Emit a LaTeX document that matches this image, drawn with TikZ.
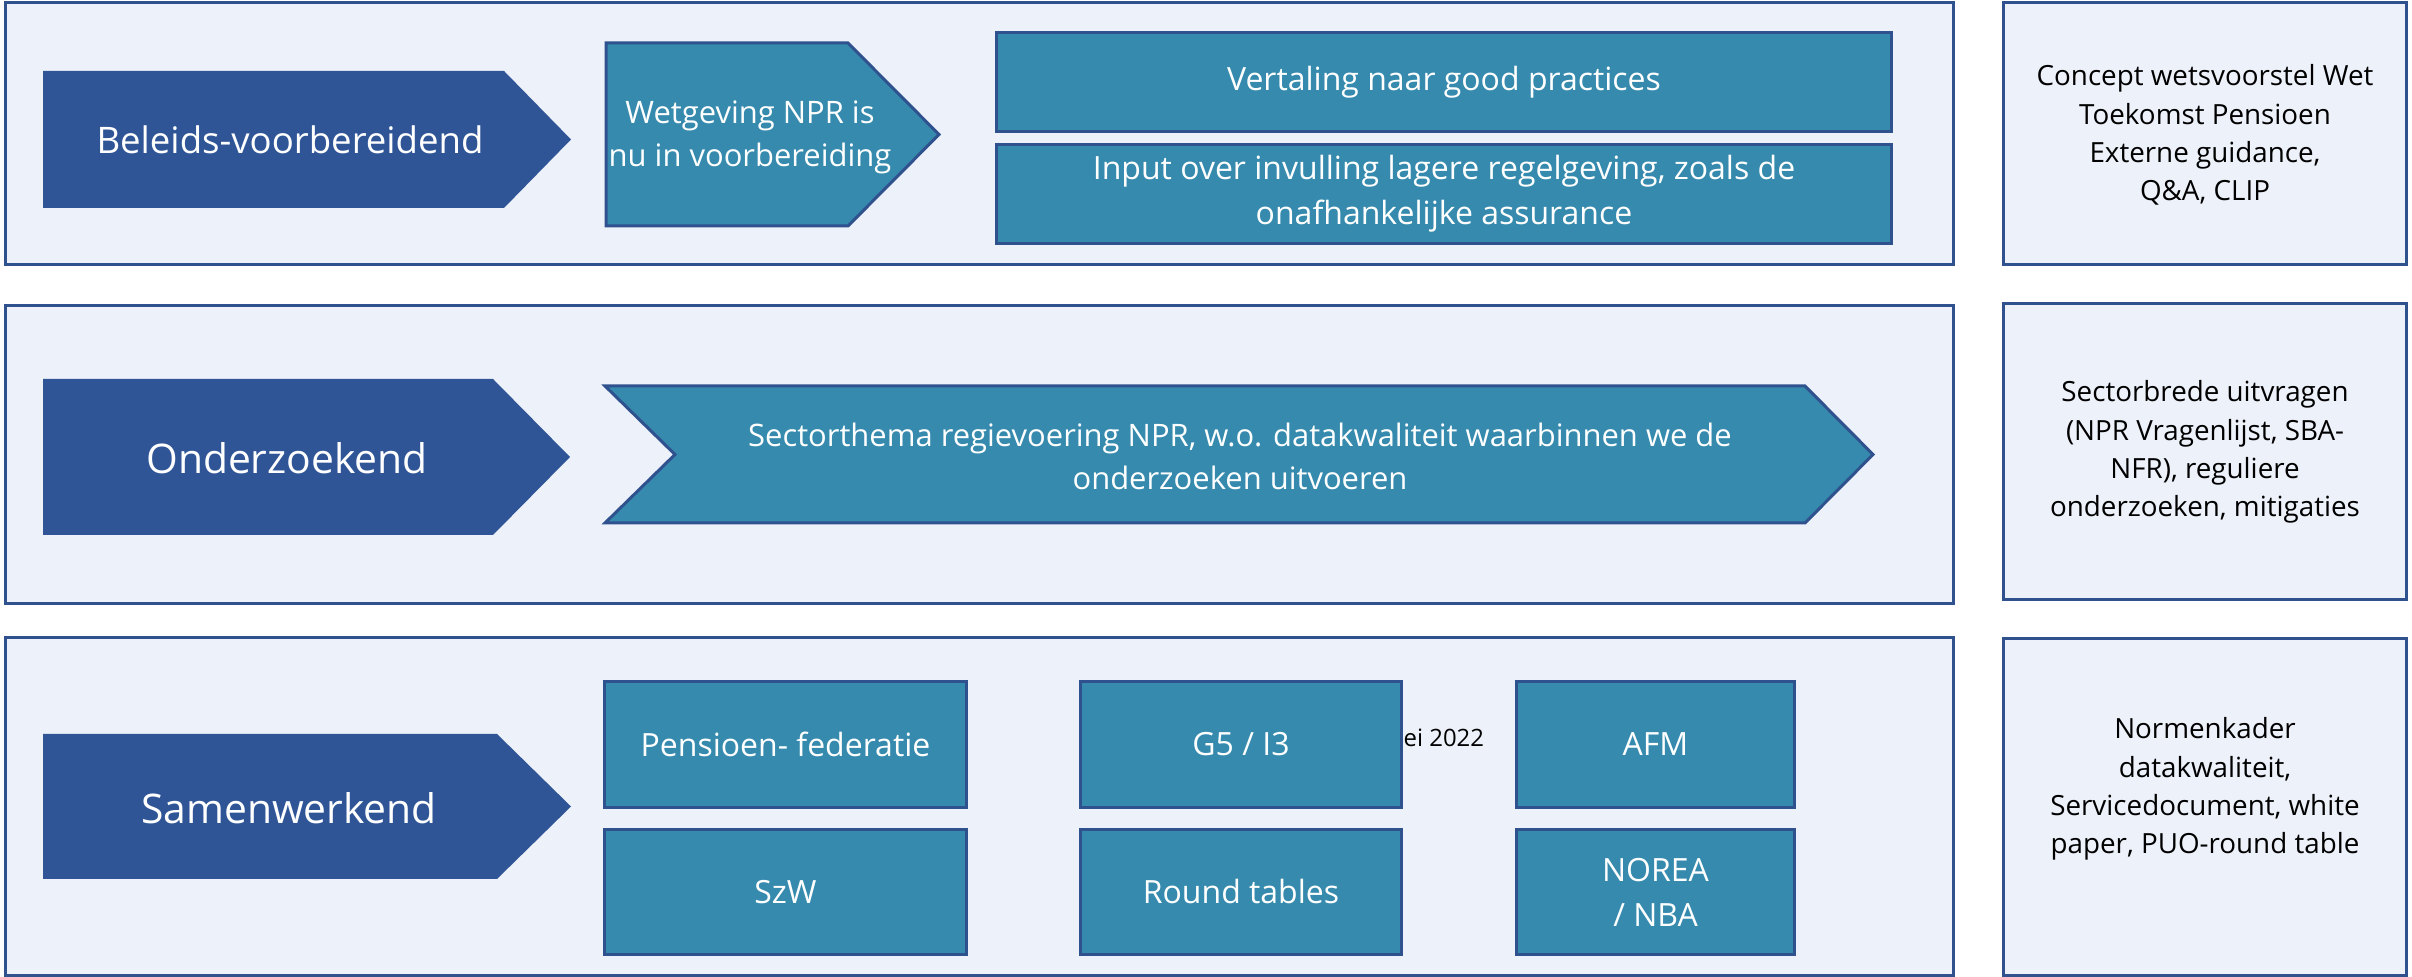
\documentclass[tikz,border=0pt]{standalone}
\usepackage{fontspec}
\setmainfont{Open Sans}
\usepackage{tikz}

\definecolor{panelfill}{HTML}{EDF1F9}
\definecolor{edgeblue}{HTML}{2F528F}
\definecolor{stageblue}{HTML}{2F5597}
\definecolor{tealfill}{HTML}{358AAD}

\tikzset{
  panel/.style={draw=edgeblue, fill=panelfill, line width=0.85pt, inner sep=0pt},
  stage/.style={fill=stageblue},
  tealshape/.style={draw=edgeblue, fill=tealfill, line width=0.85pt},
  tealbox/.style={tealshape, inner sep=0pt, text=white, align=center,
    font=\fontsize{9.1}{12.8}\selectfont},
  stagetext/.style={text=white, inner sep=0pt, align=center},
  sidetext/.style={inner sep=0pt, align=center, font=\fontsize{7.9}{10.9}\selectfont}
}

\begin{document}
\begin{tikzpicture}[x=0.01cm, y=-0.01cm]
\useasboundingbox (0,0) rectangle (2412,977);

% three rows
\node[panel, minimum width=19.47cm, minimum height=2.61cm] (row1) at (979.5,133.5) {};
\node[panel, minimum width=19.47cm, minimum height=2.97cm] (row2) at (979.5,454.5) {};
\node[panel, minimum width=19.47cm, minimum height=3.37cm] (row3) at (979.5,806.5) {};

% column on the right
\node[panel, minimum width=4.02cm, minimum height=2.61cm] (side1) at (2205,133.5) {};
\node[panel, minimum width=4.02cm, minimum height=2.95cm] (side2) at (2205,451.5) {};
\node[panel, minimum width=4.02cm, minimum height=3.36cm] (side3) at (2205,807) {};
\node[sidetext] (sidetxt1) at (2205,135) {Concept wetsvoorstel Wet\\Toekomst Pensioen\\Externe guidance,\\Q\&A, CLIP};
\node[sidetext] (sidetxt2) at (2205,452) {Sectorbrede uitvragen\\(NPR Vragenlijst, SBA-\\NFR), reguliere\\onderzoeken, mitigaties};
\node[sidetext] (sidetxt3) at (2205,789) {Normenkader\\datakwaliteit,\\Servicedocument, white\\paper, PUO-round table};

% Beleids-voorbereidend
\fill[stage] (43,71) -- (504,71) -- (571,139.5) -- (504,208) -- (43,208) -- cycle;
\node[stagetext, font=\fontsize{10.4}{13}\selectfont] (beleid) at (290,140) {Beleids-voorbereidend};
\draw[tealshape] (606,43) -- (848,43) -- (939,134.5) -- (848,226) -- (606,226) -- cycle;
\node[stagetext, font=\fontsize{8.8}{12.2}\selectfont] (wetg) at (750,137) {Wetgeving NPR is\\nu in voorbereiding};
\node[tealbox, minimum width=8.94cm, minimum height=0.98cm] (vertaling) at (1444,82) {Vertaling naar good practices};
\node[tealbox, minimum width=8.94cm, minimum height=0.98cm] (input) at (1444,194) {Input over invulling lagere regelgeving, zoals de\\onafhankelijke assurance};

% Onderzoekend
\fill[stage] (43,379) -- (493,379) -- (570,457) -- (493,535) -- (43,535) -- cycle;
\node[stagetext, font=\fontsize{11.6}{14}\selectfont] (onderz) at (287,458) {Onderzoekend};
\draw[tealshape] (605,386) -- (1805,386) -- (1873,454.5) -- (1805,523) -- (605,523) -- (675,454.5) -- cycle;
\node[stagetext, font=\fontsize{8.8}{12.2}\selectfont] (sector) at (1240,456) {Sectorthema regievoering NPR, w.o. datakwaliteit waarbinnen we de\\onderzoeken uitvoeren};

% Samenwerkend
\fill[stage] (43,734) -- (497,734) -- (571,806.5) -- (497,879) -- (43,879) -- cycle;
\node[stagetext, font=\fontsize{11.6}{14}\selectfont] (samen) at (289,808) {Samenwerkend};
\node[inner sep=0pt, anchor=west, font=\fontsize{6.8}{8}\selectfont] (datum) at (1403,738) {ei 2022};
\node[tealbox, minimum width=3.61cm, minimum height=1.25cm] (pfed) at (785.5,744.5) {Pensioen- federatie};
\node[tealbox, minimum width=3.61cm, minimum height=1.24cm] (szw) at (785.5,892) {SzW};
\node[tealbox, minimum width=3.20cm, minimum height=1.25cm] (gvijf) at (1241,744.5) {G5 / I3};
\node[tealbox, minimum width=3.20cm, minimum height=1.24cm] (round) at (1241,892) {Round tables};
\node[tealbox, minimum width=2.77cm, minimum height=1.25cm] (afm) at (1655.5,744.5) {AFM};
\node[tealbox, minimum width=2.77cm, minimum height=1.24cm] (norea) at (1655.5,892) {NOREA\\/ NBA};
\end{tikzpicture}
\end{document}
